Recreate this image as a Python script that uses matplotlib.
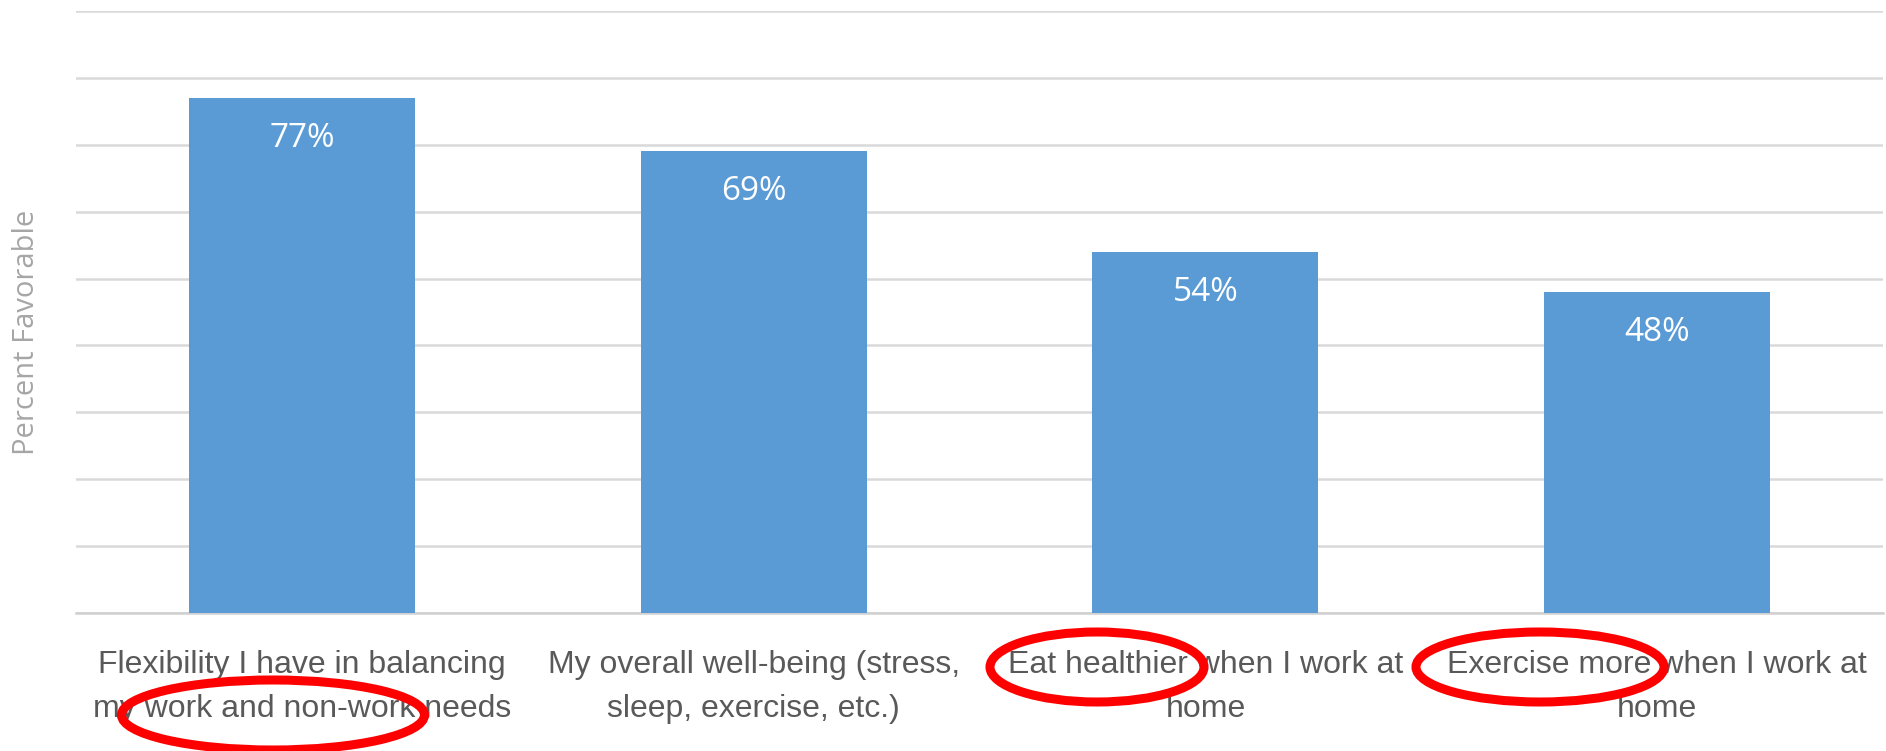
import matplotlib
matplotlib.use('Agg')
import matplotlib.pyplot as plt
from matplotlib.patches import Ellipse

categories = ['Flexibility I have in balancing\nmy work and non-work needs',
              'My overall well-being (stress,\nsleep, exercise, etc.)',
              'Eat healthier when I work at\nhome',
              'Exercise more when I work at\nhome']
values = [77, 69, 54, 48]
value_labels = ['77%', '69%', '54%', '48%']

W, H = 1886, 751
fig = plt.figure(figsize=(W / 100, H / 100), dpi=100)
ax = fig.add_axes([76 / W, 1 - 613 / H, (1883 - 76) / W, (613 - 11) / H])

x = list(range(len(values)))
bars = ax.bar(x, values, width=0.5, color='#5b9bd5', zorder=3)

for b, lab in zip(bars, value_labels):
    ax.annotate(lab, (b.get_x() + b.get_width() / 2, b.get_height()),
                xytext=(0, -29), textcoords='offset points',
                ha='center', va='center', color='white',
                fontsize=24, family='Open Sans', zorder=4)

ax.set_xlim(-0.5, 3.5)
ax.set_ylim(0, 90)
ax.set_yticks(range(0, 91, 10))
ax.set_yticklabels([])
ax.tick_params(axis='y', length=0)
ax.tick_params(axis='x', length=0, pad=26.5)
ax.set_xticks(x)
ax.set_xticklabels(categories, fontsize=23, color='#595959',
                   family='Liberation Sans', linespacing=1.6)
ax.grid(axis='y', color='#d9d9d9', linewidth=1.8, zorder=0)
for s in ['top', 'left', 'right']:
    ax.spines[s].set_visible(False)
ax.spines['bottom'].set_color('#d0d0d0')
ax.spines['bottom'].set_linewidth(1.8)

fig.text(27 / W, 1 - 332 / H, 'Percent Favorable', rotation=90,
         ha='center', va='center', color='#a6a6a6', fontsize=21,
         family='Open Sans')

# red circles drawn on the screenshot
for cx, cy, ew, eh in [(273, 715, 303, 70), (1097, 667, 214, 70), (1540, 667, 248, 70)]:
    fig.add_artist(Ellipse((cx / W, 1 - cy / H), ew / W, eh / H,
                           transform=fig.transFigure, fill=False,
                           edgecolor='#ff0000', linewidth=6.5))

fig.savefig('out.png', dpi=100)
